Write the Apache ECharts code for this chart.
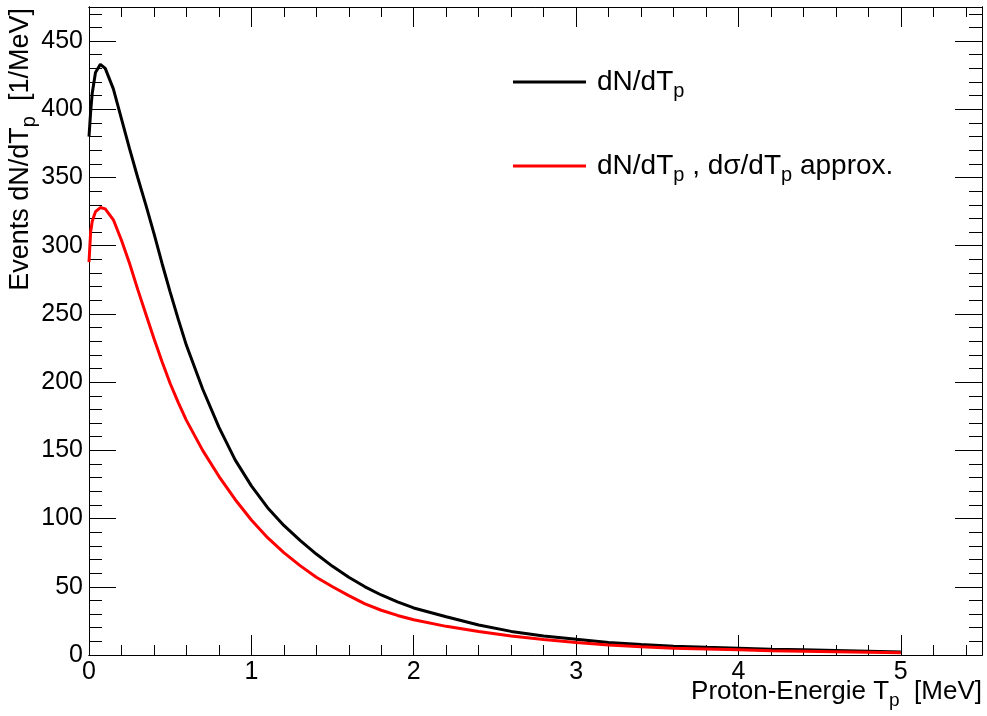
<!DOCTYPE html>
<html>
<head>
<meta charset="utf-8">
<script src="https://cdn.jsdelivr.net/npm/echarts@6/dist/echarts.min.js"></script>
<style>
html,body{margin:0;padding:0;background:#fff;}
#chart{width:987px;height:716px;}
</style>
</head>
<body>
<div id="chart"></div>
<script>
// Proton energy T_p [MeV]
const energy = [0, 0.01, 0.02, 0.04, 0.07, 0.1, 0.15, 0.2, 0.25, 0.3, 0.35, 0.4, 0.45, 0.5, 0.55, 0.6, 0.7, 0.8, 0.9, 1.0, 1.1, 1.2, 1.3, 1.4, 1.5, 1.6, 1.7, 1.8, 1.9, 2.0, 2.2, 2.4, 2.6, 2.8, 3.0, 3.2, 3.4, 3.6, 3.8, 4.0, 4.2, 4.4, 4.6, 4.8, 5.0];
// dN/dT_p  [1/MeV]
const dNdT = [380, 398, 412, 427, 433, 430, 415, 393, 371, 350, 330, 309, 287, 266, 246, 227, 195, 167, 143, 124, 108, 95, 84, 74, 65, 57, 50, 44, 39, 34.5, 28, 22, 17.3, 14, 11.5, 9.2, 7.7, 6.5, 5.7, 5.0, 4.3, 3.8, 3.3, 2.8, 2.2];
// dN/dT_p with dsigma/dT_p approximation
const dNdTApprox = [288, 310, 318, 325, 328, 327, 319, 304, 287, 268, 250, 232, 215, 199, 185, 172, 150, 131, 114, 99, 86, 75, 65.5, 57, 50, 43.5, 37.5, 32.8, 29, 25.8, 21, 17.3, 14, 11.3, 9.1, 7.4, 6.1, 5.0, 4.4, 3.8, 3.2, 2.8, 2.4, 2.0, 1.6];

const seriesNames = ['dN/dT_p', 'dN/dT_p , dσ/dT_p approx.'];
const seriesLabels = ['dN/dT{sub|p}', 'dN/dT{sub|p} , dσ/dT{sub|p} approx.'];
const xTitle = 'Proton-Energie T{sub|p}  [MeV]';
const yTitle = 'Events dN/dT{sub|p}  [1/MeV]';

const X_MIN = 0, X_MAX = 5.5, Y_MIN = 0, Y_MAX = 475;
const FONT = '"Liberation Sans", Arial, Helvetica, sans-serif';

function pairs(xs, ys) { return xs.map((x, i) => [x, ys[i]]); }

function subRich(size, pad) {
  return { sub: { fontSize: size, fontFamily: FONT, color: '#000', padding: [pad, 0, 0, 0] } };
}

const line = { show: true, onZero: false, lineStyle: { color: '#000', width: 1 } };

function xAx(pos, interval, len, labels) {
  return {
    type: 'value', gridIndex: 0, position: pos, min: X_MIN, max: X_MAX, interval: interval,
    axisLine: line,
    axisTick: { show: true, inside: true, length: len, lineStyle: { color: '#000', width: 1 } },
    axisLabel: labels ? { show: true, fontSize: 25, fontFamily: FONT, color: '#000', margin: 5, showMaxLabel: false } : { show: false },
    splitLine: { show: false }
  };
}
function yAx(pos, interval, len, labels) {
  return {
    type: 'value', gridIndex: 0, position: pos, min: Y_MIN, max: Y_MAX, interval: interval,
    axisLine: line,
    axisTick: { show: true, inside: true, length: len, lineStyle: { color: '#000', width: 1 } },
    axisLabel: labels ? { show: true, fontSize: 25, fontFamily: FONT, color: '#000', margin: 6, showMaxLabel: false } : { show: false },
    splitLine: { show: false }
  };
}

const chart = echarts.init(document.getElementById('chart'), null, { renderer: 'canvas' });

function legendFor(i, top) {
  return {
    show: true, orient: 'vertical', left: 508, top: top,
    data: [seriesNames[i]],
    icon: 'rect', itemWidth: 73, itemHeight: 3,
    formatter: () => seriesLabels[i],
    selectedMode: false,
    textStyle: { fontSize: 28, fontFamily: FONT, color: '#000', padding: [0, 0, 0, 6], rich: subRich(20, 18) }
  };
}

chart.setOption({
  animation: false,
  backgroundColor: '#fff',
  grid: { left: 89, top: 7, width: 893, height: 648, containLabel: false },
  xAxis: [xAx('bottom', 1, 20, true), xAx('bottom', 0.2, 10, false), xAx('top', 1, 20, false), xAx('top', 0.2, 10, false)],
  yAxis: [yAx('left', 50, 27, true), yAx('left', 10, 13, false), yAx('right', 50, 27, false), yAx('right', 10, 13, false)],
  legend: [legendFor(0, 63), legendFor(1, 147)],
  series: [
    { name: seriesNames[0], type: 'line', xAxisIndex: 0, yAxisIndex: 0, data: pairs(energy, dNdT),
      showSymbol: false, smooth: false, lineStyle: { color: '#000', width: 3 }, itemStyle: { color: '#000' }, z: 3 },
    { name: seriesNames[1], type: 'line', xAxisIndex: 0, yAxisIndex: 0, data: pairs(energy, dNdTApprox),
      showSymbol: false, smooth: false, lineStyle: { color: '#ff0000', width: 3 }, itemStyle: { color: '#ff0000' }, z: 4 }
  ],
  graphic: [
    { type: 'text', x: 982, y: 692, z: 10,
      style: { text: xTitle, fontSize: 26, fontFamily: FONT, fill: '#000', align: 'right', verticalAlign: 'middle', rich: subRich(19, 17) } },
    { type: 'text', x: 21, y: 8, rotation: Math.PI / 2, z: 10,
      style: { text: yTitle, fontSize: 27, fontFamily: FONT, fill: '#000', align: 'right', verticalAlign: 'middle', rich: subRich(20, 17) } }
  ]
});
</script>
</body>
</html>
